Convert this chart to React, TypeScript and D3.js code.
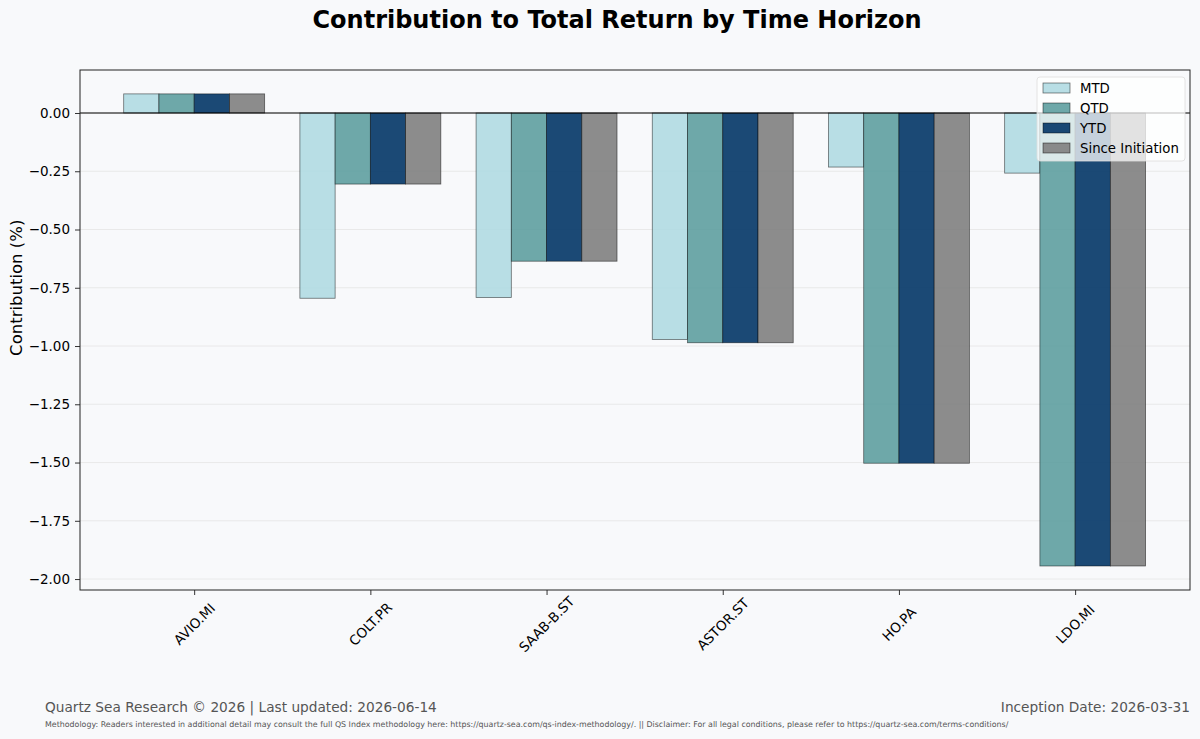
import { useRef, useEffect } from "react";
import * as d3 from "d3";

const tickers = ["AVIO.MI", "COLT.PR", "SAAB-B.ST", "ASTOR.ST", "HO.PA", "LDO.MI"];
const horizons = ["MTD", "QTD", "YTD", "Since Initiation"];
const mtd = [0.082, -0.795, -0.792, -0.972, -0.232, -0.258];
const qtd = [0.082, -0.305, -0.636, -0.986, -1.503, -1.944];
const ytd = [0.082, -0.305, -0.636, -0.986, -1.503, -1.944];
const sinceInit = [0.082, -0.305, -0.636, -0.986, -1.503, -1.944];
const yTicks = [0, -0.25, -0.5, -0.75, -1.0, -1.25, -1.5, -1.75, -2.0];

const colors = ["#b0dae2", "#5e9ea0", "#0f3f6e", "#808080"];
const opacities = [0.9, 0.9, 0.95, 0.9];

const W = 1200;
const H = 739;
const margin = { top: 70, right: 10, bottom: 149, left: 80 };

export default function App() {
  const svgRef = useRef<SVGSVGElement>(null);

  useEffect(() => {
    if (!svgRef.current) return;
    const svg = d3.select(svgRef.current);
    svg.selectAll("*").remove();

    const width = W - margin.left - margin.right;
    const height = H - margin.top - margin.bottom;
    const series = [mtd, qtd, ytd, sinceInit];

    svg.append("rect").attr("width", W).attr("height", H).attr("fill", "#f8f9fb");

    svg.append("text")
      .attr("x", 617).attr("y", 28)
      .attr("text-anchor", "middle")
      .attr("font-size", 24).attr("font-weight", "bold")
      .attr("fill", "#000")
      .text("Contribution to Total Return by Time Horizon");

    const g = svg.append("g").attr("transform", `translate(${margin.left},${margin.top})`);

    const x = d3.scaleLinear().domain([-0.648, 5.652]).range([0, width]);
    const y = d3.scaleLinear().domain([0.1845, -2.047]).range([0, height]);
    const bw = x(0.2) - x(0);

    // Grid
    g.append("g").selectAll("line").data(yTicks).enter().append("line")
      .attr("x1", 0).attr("x2", width)
      .attr("y1", d => y(d)).attr("y2", d => y(d))
      .attr("stroke", "#e4e4e4").attr("stroke-width", 0.8);

    // Bars
    series.forEach((vals, si) => {
      g.append("g").selectAll("rect").data(vals).enter().append("rect")
        .attr("x", (_, i) => x(i + (si - 2) * 0.2))
        .attr("width", bw)
        .attr("y", d => y(Math.max(0, d)))
        .attr("height", d => Math.abs(y(d) - y(0)))
        .attr("fill", colors[si]).attr("fill-opacity", opacities[si])
        .attr("stroke", "#000").attr("stroke-opacity", 0.55).attr("stroke-width", 0.8);
    });

    // Zero line
    g.append("line")
      .attr("x1", 0).attr("x2", width)
      .attr("y1", y(0)).attr("y2", y(0))
      .attr("stroke", "#000").attr("stroke-width", 1.2);

    // Axes
    const yAxis = g.append("g")
      .call(d3.axisLeft(y).tickValues(yTicks).tickSize(5).tickPadding(5).tickFormat(d => d3.format(".2f")(d as number).replace("-", "\u2212")));
    yAxis.select(".domain").remove();
    yAxis.selectAll("line").attr("stroke", "#333");
    yAxis.selectAll("text").attr("font-size", 13.5).attr("fill", "#000").attr("font-family", "DejaVu Sans");

    const xAxis = g.append("g").attr("transform", `translate(0,${height})`)
      .call(d3.axisBottom(x).tickValues(d3.range(tickers.length)).tickSize(5).tickFormat(() => ""));
    xAxis.select(".domain").remove();
    xAxis.selectAll("line").attr("stroke", "#333");

    g.append("g").selectAll("text").data(tickers).enter().append("text")
      .attr("transform", (_, i) => `translate(${x(i)},${height + 34}) rotate(-45)`)
      .attr("text-anchor", "middle").attr("dominant-baseline", "central")
      .attr("font-size", 13.5).attr("fill", "#000")
      .text(d => d);

    g.append("rect").attr("width", width).attr("height", height)
      .attr("fill", "none").attr("stroke", "#222").attr("stroke-width", 1);

    svg.append("text")
      .attr("transform", `translate(22,${margin.top + y(-0.75)}) rotate(-90)`)
      .attr("text-anchor", "middle")
      .attr("font-size", 16.5).attr("fill", "#000")
      .text("Contribution (%)");

    // Legend
    const lg = svg.append("g").attr("transform", "translate(1037,77)");
    lg.append("rect").attr("width", 148).attr("height", 84).attr("rx", 3)
      .attr("fill", "#ffffff").attr("fill-opacity", 0.75)
      .attr("stroke", "#dddddd").attr("stroke-width", 0.8);
    horizons.forEach((h, i) => {
      const row = lg.append("g").attr("transform", `translate(6,${11 + i * 20})`);
      row.append("rect").attr("x", 0).attr("y", -5).attr("width", 27).attr("height", 10)
        .attr("fill", colors[i]).attr("fill-opacity", opacities[i])
        .attr("stroke", "#000").attr("stroke-opacity", 0.55).attr("stroke-width", 0.8);
      row.append("text").attr("x", 37).attr("y", 0).attr("dominant-baseline", "central")
        .attr("font-size", 13.3).attr("fill", "#000").text(h);
    });

    // Footer
    svg.append("text").attr("x", 45).attr("y", 712)
      .attr("font-size", 13.7).attr("fill", "#555")
      .text("Quartz Sea Research \u00a9 2026 | Last updated: 2026-06-14");
    svg.append("text").attr("x", 1190).attr("y", 712).attr("text-anchor", "end")
      .attr("font-size", 13.7).attr("fill", "#555")
      .text("Inception Date: 2026-03-31");
    svg.append("text").attr("x", 45).attr("y", 727)
      .attr("font-size", 7.9).attr("fill", "#555")
      .text("Methodology: Readers interested in additional detail may consult the full QS Index methodology here: https://quartz-sea.com/qs-index-methodology/. || Disclaimer: For all legal conditions, please refer to https://quartz-sea.com/terms-conditions/");
  }, []);

  return (
    <svg
      ref={svgRef}
      width={W}
      height={H}
      style={{ display: "block", position: "absolute", left: 0, top: 0, fontFamily: "DejaVu Sans" }}
    />
  );
}
